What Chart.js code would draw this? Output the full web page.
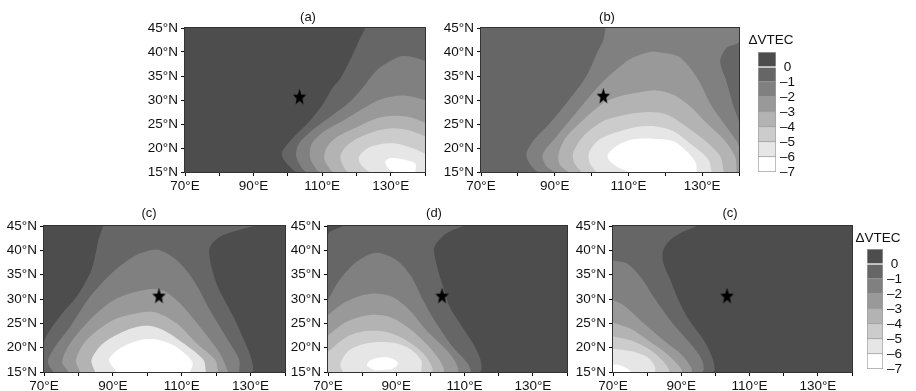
<!DOCTYPE html>
<html>
<head>
<meta charset="utf-8">
<title>VTEC</title>
<script src="https://cdn.jsdelivr.net/npm/chart.js@4"></script>
<style>
html, body { margin: 0; padding: 0; background: #fff; }
canvas { position: absolute; }
</style>
</head>
<body>
<script>
// grey for each level, darkest (above 0) to white (-6 to -7)
const levelColors = ['#4d4d4d', '#666666', '#808080', '#999999', '#b3b3b3', '#cccccc', '#e6e6e6', '#ffffff'];
const barTicks = [0, -1, -2, -3, -4, -5, -6, -7];
const barBands = [[0, 1], [-1, 0], [-2, -1], [-3, -2], [-4, -3], [-5, -4], [-6, -5], [-7, -6]];
const lonTicks = [70, 90, 110, 130];
const panelTitles = ['(a)', '(b)', '(c)', '(d)', '(c)'];
const starLon = [103.4, 103.2, 103.4, 103.4, 103.4];
const starLat = [30.6, 30.8, 30.6, 30.6, 30.6];

// contours: [level, [lon, lat], [lon, lat], ...]
const contoursA = [
    [1, [122.6,45],[120.65,42.2],[118.2,38.4],[115.3,34.5],[112.9,32.4],[110.4,29.3],[106.6,25.8],[101.7,22.3],[98.3,19.2],[98.6,17.8],[100.7,16],[102.7,15],[140,15],[140,45]],
    [2, [140,38.2],[135.2,39.1],[132.8,39.1],[128.9,37.7],[125.5,35.9],[122.1,32.8],[118.2,29.7],[112.4,26.5],[106.6,23.4],[103.2,20.9],[102.4,18.5],[103.6,16.4],[105.6,15],[140,15]],
    [3, [140,30],[134.7,30.9],[130.9,30.8],[127,30.1],[122.1,28.3],[116.3,25.8],[110.4,23.4],[107,20.9],[106.4,18.5],[107.5,16.4],[109.5,15],[140,15]],
    [4, [140,25.3],[135.7,26.4],[130.9,26.7],[126,26.2],[120.2,24.4],[114.3,22.3],[111.4,20.2],[110.6,17.8],[111.9,16],[113.4,15],[140,15]],
    [5, [140,22.5],[135.7,23.6],[130.9,24.1],[126,23.6],[120.2,22],[116.8,20.2],[115.3,18.1],[116.3,16],[117.7,15],[140,15]],
    [6, [140,18.8],[136.7,19.9],[131.8,20.9],[127,20.8],[123.1,19.9],[120.7,18.1],[121.1,16.7],[123.1,15.3],[124,15],[140,15]],
    [7, [137.2,15],[137.2,16.7],[133.8,17.6],[129.9,17.9],[128.4,17.1],[129.4,15.7],[130.9,15]]
];
const contoursB = [
    [2, [103.8,45],[103.2,42.6],[101.3,39.5],[99.1,35.7],[96.8,32.9],[93.2,29.4],[88.7,25.2],[84.1,21.4],[82.3,18.6],[83.7,16.2],[85.9,15],[140,15],[140,25.2],[138.5,28.7],[136.7,33.6],[134.9,38.1],[136.7,40.9],[140,42.1],[140,45]],
    [3, [90,15],[87.8,16.2],[86.7,18.6],[90.5,22.4],[95,26.6],[99.5,30.8],[103.2,33.9],[106.8,36.4],[110.4,38.5],[115.8,40],[119.5,39.8],[123.5,39.1],[126.7,36.7],[129.4,33.6],[132.1,29.4],[135.8,25.2],[138.5,22.4],[140,20.4],[140,15]],
    [4, [93.6,15],[91.4,16.5],[91,18.6],[92.7,21.8],[96.8,25.2],[103.2,29.4],[107.7,30.8],[113.1,31.6],[117.6,32],[122.2,31.1],[126.7,28.7],[131.2,25.2],[135.8,21.8],[138.9,18.3],[139.4,15]],
    [5, [97.3,15],[95.3,16.9],[95,19],[97.7,22.4],[103.2,25.6],[109.5,27],[115.8,27.5],[120.4,27],[124.9,24.9],[130.3,21.8],[134.9,18.3],[135.9,15]],
    [6, [101.3,15],[99.5,16.9],[99.3,19],[102.2,21.8],[107.7,23.5],[113.1,24.5],[117.6,24.5],[122.2,23.5],[127.6,20.4],[131.7,17.6],[132.6,15]],
    [7, [110,15],[106.3,16.4],[104.3,18.3],[106.8,20.4],[111.3,21.8],[117.6,21.9],[122.2,21.4],[125.8,19.3],[128.3,16.9],[128.5,15]]
];
const contoursC = [
    [1, [87.2,45],[85.8,42.1],[84.8,38.7],[83.4,35.3],[79.5,30.5],[74.6,26.4],[70,21.2],[70,15],[130.3,15],[130.3,17.5],[128.9,20.2],[125,26.4],[120.1,33.2],[118,40.1],[121.1,42.8],[130.8,45]],
    [2, [72.7,15],[71.1,17.1],[73.2,20.2],[77.6,24.3],[83.4,30.5],[90.1,35.6],[95.9,38.7],[99.3,39.7],[103.2,40.1],[108.5,38],[113.4,33.9],[118.2,27.7],[124,20.9],[126.7,17.5],[126.7,15]],
    [3, [77.1,15],[75.3,17.1],[77.6,20.9],[84.3,26.4],[91.1,30.1],[100.3,32],[104.7,31.7],[109.5,29.1],[115.3,24.3],[121.1,18.8],[123.5,15]],
    [4, [80.5,15],[79.3,17.5],[82.4,21.6],[90.1,25.7],[97.9,27.2],[102.7,27.2],[108.5,25],[114.3,20.9],[119.7,17.5],[120.6,15]],
    [6, [84.8,15],[83.8,17.5],[87.2,20.9],[94,23.6],[99.8,24.5],[104.7,23.6],[110.5,20.9],[116.3,17.5],[117,15]],
    [7, [91.1,15],[88.9,17.5],[92.1,19.9],[97.9,21.6],[102.7,21.7],[107.6,20.5],[111.4,18.5],[113.2,16.8],[112.4,15]]
];
const contoursD = [
    [1, [74.4,45],[70,43.1],[70,15],[114.4,15],[114.7,17.4],[112.5,20.8],[108.6,25],[105.6,28.4],[103.7,32.5],[102.2,35.9],[101,40.1],[101.7,41.4],[104.7,43.5],[109.6,45]],
    [2, [70,29.8],[73.4,33.9],[78.3,37.6],[84.2,39.5],[90,38],[94.4,34.6],[97.8,29.8],[101.7,25],[106.6,20.1],[111,16.7],[111.5,15],[70,15]],
    [3, [70,26.7],[74.4,29.1],[80.3,30.8],[84.6,31.1],[89,30.4],[93.9,27.7],[98.8,23.6],[104.7,19.5],[107.6,16.7],[107.9,15],[70,15]],
    [4, [70,22.5],[75.4,25.3],[82.2,26.7],[88.1,26.3],[93.9,23.9],[98.8,20.8],[102.7,17.4],[103.7,15],[70,15]],
    [5, [70,19.1],[75.4,22.2],[81.2,23.4],[87.1,23.2],[92.9,21.5],[98.8,18.1],[100.3,15],[70,15]],
    [6, [74.4,15],[73.6,16.7],[76.3,19.5],[82.2,21],[89,21],[93.9,19.8],[97.3,17.4],[97.3,15]],
    [7, [83.7,15.3],[81.4,16.4],[82.7,17.5],[86.6,18.1],[89.5,17.5],[90.5,16.6],[88.6,15.5]]
];
const contoursE = [
    [1, [94.6,45],[89.7,43.5],[86.3,41.8],[84.6,39.7],[84.8,37.3],[86.8,33.9],[88.8,30.4],[91.7,26.3],[96.6,21.5],[99.3,17.4],[99.3,15],[70,15],[70,45]],
    [2, [70,37.9],[74.1,37.3],[78,34.6],[81.9,30.4],[86.8,25.6],[92.7,20.8],[96.1,17.4],[96.1,15],[70,15]],
    [3, [70,29.8],[73.1,28.7],[79,25],[84.8,21.5],[90.7,18.1],[92.9,15],[70,15]],
    [4, [70,25.1],[75.1,23.9],[80.9,21.2],[86.8,18.1],[90,15],[70,15]],
    [5, [70,22.3],[75.1,21.5],[80.9,19.5],[85.3,16.7],[86.3,15],[70,15]],
    [6, [70,19.8],[75.1,19.3],[80,18.1],[82.1,16.4],[82.1,15],[70,15]],
    [7, [70,16.6],[72.1,16.4],[74.1,15.7],[75.1,15],[70,15]]
];
const panelContours = [contoursA, contoursB, contoursC, contoursD, contoursE];
const panelBackground = [0, 1, 0, 0, 0];

// where each plot sits in the window
const boxes = [
    { left: 185, right: 425, top: 28, bottom: 172, titleX: 308, titleY: 18 },
    { left: 481, right: 739, top: 28, bottom: 172, titleX: 607, titleY: 18 },
    { left: 44, right: 285, top: 226, bottom: 372, titleX: 149, titleY: 214 },
    { left: 328, right: 567, top: 226, bottom: 372, titleX: 434, titleY: 214 },
    { left: 613, right: 852, top: 226, bottom: 372, titleX: 730, titleY: 214 }
];
const barBoxes = [
    { left: 758, right: 776, top: 52, bottom: 172, titleX: 771, titleY: 40 },
    { left: 867, right: 883, top: 249, bottom: 369, titleX: 878, titleY: 238 }
];

const fontName = '"Liberation Sans", Arial, sans-serif';
const titleSize = 13;

function makeCanvas(box, leftPad, rightPad, below) {
    const canvas = document.createElement('canvas');
    const top = Math.round(box.titleY - titleSize * 0.6);
    canvas.width = box.right - box.left + leftPad + rightPad;
    canvas.height = box.bottom + below - top;
    canvas.style.left = (box.left - leftPad) + 'px';
    canvas.style.top = top + 'px';
    document.body.appendChild(canvas);
    return { canvas: canvas, canvasLeft: box.left - leftPad, canvasTop: top };
}

function makeStar() {
    const c = document.createElement('canvas');
    c.width = 15;
    c.height = 17;
    const g = c.getContext('2d');
    g.beginPath();
    for (let i = 0; i < 10; i++) {
        const r = i % 2 ? 0.42 : 1;
        const a = -Math.PI / 2 + i * Math.PI / 5;
        g.lineTo(7.5 + 7 * r * Math.cos(a), 8.8 + 8.5 * r * Math.sin(a));
    }
    g.closePath();
    g.fillStyle = '#000';
    g.fill();
    return c;
}

// titles in the picture are not centred over the plots
function titleShift(box, canvasLeft) {
    return {
        id: 'titleShift',
        afterLayout(chart) {
            chart.titleBlock.left = box.titleX - canvasLeft - 60;
            chart.titleBlock.right = box.titleX - canvasLeft + 60;
        }
    };
}

// thin frame round the plot
const framePlugin = {
    id: 'frame',
    afterDraw(chart) {
        const a = chart.chartArea;
        const ctx = chart.ctx;
        ctx.save();
        ctx.strokeStyle = '#333';
        ctx.lineWidth = 1;
        ctx.strokeRect(a.left - 0.5, a.top - 0.5, a.right - a.left + 1, a.bottom - a.top + 1);
        ctx.restore();
    }
};

const star = makeStar();

panelContours.forEach(function (contours, i) {
    const box = boxes[i];
    const place = makeCanvas(box, 45, 20, 24);
    const datasets = [];
    datasets.push({
        data: [{ x: 70, y: 15 }, { x: 140, y: 15 }, { x: 140, y: 45 }, { x: 70, y: 45 }],
        showLine: true, fill: 'shape', tension: 0, pointRadius: 0, borderWidth: 0,
        backgroundColor: levelColors[panelBackground[i]], order: 20
    });
    contours.forEach(function (c, k) {
        datasets.push({
            data: c.slice(1).map(function (p) { return { x: p[0], y: p[1] }; }),
            showLine: true, fill: 'shape', tension: 0.3, pointRadius: 0, borderWidth: 0,
            backgroundColor: levelColors[c[0]], order: 19 - k
        });
    });
    datasets.push({
        data: [{ x: starLon[i], y: starLat[i] }],
        pointStyle: star, pointRadius: 8, showLine: false, order: 0
    });
    new Chart(place.canvas, {
        type: 'scatter',
        data: { datasets: datasets },
        plugins: [framePlugin, titleShift(box, place.canvasLeft)],
        options: {
            responsive: false,
            animation: false,
            layout: { padding: { right: 20 } },
            plugins: {
                legend: { display: false },
                tooltip: { enabled: false },
                title: {
                    display: true,
                    text: panelTitles[i],
                    color: '#111',
                    font: { family: fontName, size: titleSize, weight: 'normal' },
                    padding: { top: 0, bottom: box.top - place.canvasTop - titleSize * 1.2 }
                }
            },
            scales: {
                x: {
                    type: 'linear', min: 70, max: 140,
                    afterFit: function (s) { s.height = 24; },
                    border: { color: '#000', width: 1 },
                    grid: { drawOnChartArea: false, color: '#000', tickLength: 4 },
                    ticks: {
                        stepSize: 10, autoSkip: false, maxRotation: 0, padding: 2, color: '#111',
                        font: { family: fontName, size: 13.5 },
                        callback: function (v) { return lonTicks.includes(v) ? v + '°E' : ''; }
                    }
                },
                y: {
                    type: 'linear', min: 15, max: 45,
                    afterFit: function (s) { s.width = 45; },
                    border: { color: '#000', width: 1 },
                    grid: { drawOnChartArea: false, color: '#000', tickLength: 4 },
                    ticks: {
                        stepSize: 5, padding: 3, color: '#111',
                        font: { family: fontName, size: 13.5 },
                        callback: function (v) { return v + '°N'; }
                    }
                }
            }
        }
    });
});

barBoxes.forEach(function (box) {
    const place = makeCanvas(box, 20, 24, 10);
    new Chart(place.canvas, {
        type: 'bar',
        data: {
            labels: ['ΔVTEC'],
            datasets: barBands.map(function (b, k) {
                return {
                    data: [b], backgroundColor: levelColors[k], borderColor: '#a0a0a0', borderWidth: 1,
                    barPercentage: 1, categoryPercentage: 1
                };
            })
        },
        plugins: [titleShift(box, place.canvasLeft)],
        options: {
            responsive: false,
            animation: false,
            layout: { padding: { left: 20, bottom: 10 } },
            plugins: {
                legend: { display: false },
                tooltip: { enabled: false },
                title: {
                    display: true,
                    text: 'ΔVTEC',
                    color: '#111',
                    font: { family: fontName, size: 13.5, weight: 'normal' },
                    padding: { top: 0, bottom: box.top - place.canvasTop - 13.5 * 1.2 }
                }
            },
            scales: {
                x: { display: false, stacked: true },
                y: {
                    position: 'right', min: -7, max: 1,
                    afterFit: function (s) { s.width = 24; },
                    border: { display: false },
                    grid: { drawOnChartArea: false, color: 'transparent', tickLength: 3 },
                    ticks: {
                        stepSize: 1, autoSkip: false, padding: 1, color: '#111',
                        font: { family: fontName, size: 13.5 },
                        callback: function (v) {
                            if (!barTicks.includes(v)) return '';
                            return v < 0 ? '–' + Math.abs(v) : ' ' + v;
                        }
                    }
                }
            }
        }
    });
});
</script>
</body>
</html>
